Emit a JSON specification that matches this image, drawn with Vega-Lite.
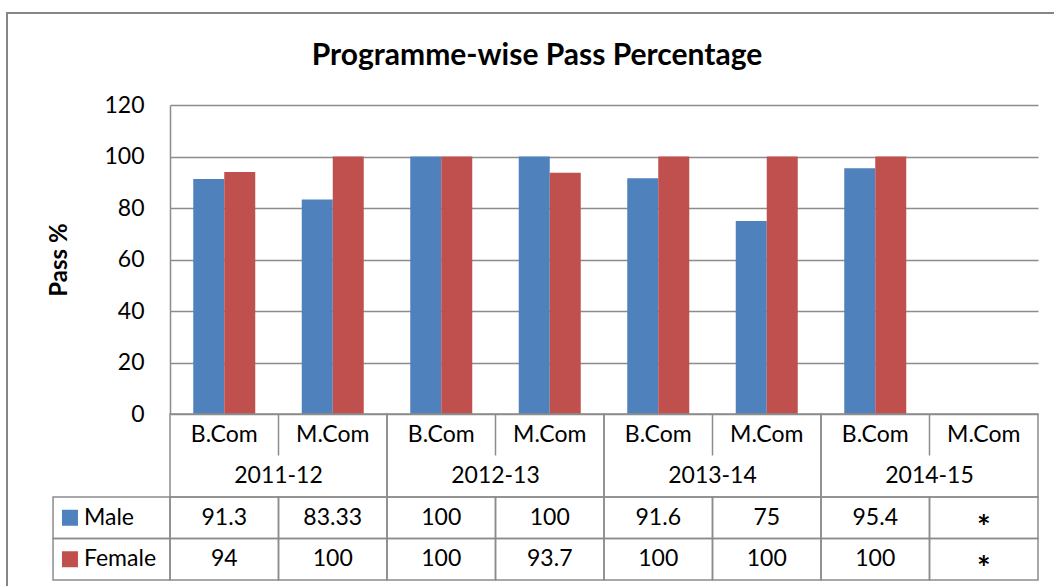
{
  "$schema": "https://vega.github.io/schema/vega-lite/v6.json",
  "width": 1060,
  "height": 590,
  "autosize": {"type": "none"},
  "padding": {"left": 7, "top": 13, "right": -13, "bottom": -17},
  "background": "white",
  "title": {"text": "Programme-wise Pass Percentage", "font": "Lato", "fontSize": 30, "fontWeight": "bold", "color": "#000000", "anchor": "middle", "offset": -82, "baseline": "alphabetic"},
  "config": {
    "view": {"stroke": "#868686", "strokeWidth": 2},
    "font": "Lato",
    "text": {"font": "Lato", "fontSize": 23, "color": "#000000"}
  },
  "data": {"values": [
    {"year": "2011-12", "prog": "B.Com", "col": "2011-12 B.Com", "gender": "Male", "value": 91.3},
    {"year": "2011-12", "prog": "B.Com", "col": "2011-12 B.Com", "gender": "Female", "value": 94},
    {"year": "2011-12", "prog": "M.Com", "col": "2011-12 M.Com", "gender": "Male", "value": 83.33},
    {"year": "2011-12", "prog": "M.Com", "col": "2011-12 M.Com", "gender": "Female", "value": 100},
    {"year": "2012-13", "prog": "B.Com", "col": "2012-13 B.Com", "gender": "Male", "value": 100},
    {"year": "2012-13", "prog": "B.Com", "col": "2012-13 B.Com", "gender": "Female", "value": 100},
    {"year": "2012-13", "prog": "M.Com", "col": "2012-13 M.Com", "gender": "Male", "value": 100},
    {"year": "2012-13", "prog": "M.Com", "col": "2012-13 M.Com", "gender": "Female", "value": 93.7},
    {"year": "2013-14", "prog": "B.Com", "col": "2013-14 B.Com", "gender": "Male", "value": 91.6},
    {"year": "2013-14", "prog": "B.Com", "col": "2013-14 B.Com", "gender": "Female", "value": 100},
    {"year": "2013-14", "prog": "M.Com", "col": "2013-14 M.Com", "gender": "Male", "value": 75},
    {"year": "2013-14", "prog": "M.Com", "col": "2013-14 M.Com", "gender": "Female", "value": 100},
    {"year": "2014-15", "prog": "B.Com", "col": "2014-15 B.Com", "gender": "Male", "value": 95.4},
    {"year": "2014-15", "prog": "B.Com", "col": "2014-15 B.Com", "gender": "Female", "value": 100},
    {"year": "2014-15", "prog": "M.Com", "col": "2014-15 M.Com", "gender": "Male", "value": null},
    {"year": "2014-15", "prog": "M.Com", "col": "2014-15 M.Com", "gender": "Female", "value": null}
  ]},
  "layer": [
    {
      "mark": {"type": "bar"},
      "encoding": {
        "x": {"field": "col", "type": "nominal", "axis": null, "scale": {"range": [163, 1031], "paddingInner": 0, "paddingOuter": 0}},
        "xOffset": {"field": "gender", "type": "nominal", "scale": {"domain": ["Male", "Female"], "paddingInner": 0, "paddingOuter": 0.75}},
        "y": {
          "field": "value", "type": "quantitative",
          "scale": {"domain": [0, 120], "range": [401, 92], "nice": false, "zero": true},
          "axis": {
            "values": [0, 20, 40, 60, 80, 100, 120],
            "grid": true, "gridColor": "#8c8c8c", "gridWidth": 1.5,
            "domain": true, "domainColor": "#8c8c8c", "domainWidth": 1.5,
            "ticks": false, "tickSize": 0,
            "labelPadding": 26, "labelFont": "Lato", "labelFontSize": 23, "labelColor": "#000000",
            "title": "Pass %", "titleFont": "Lato", "titleFontSize": 24, "titleFontWeight": "bold", "titleColor": "#000000",
            "titlePadding": 32,
            "offset": -163
          }
        },
        "color": {"field": "gender", "type": "nominal", "scale": {"domain": ["Male", "Female"], "range": ["#4F81BD", "#C0504D"]}, "legend": null}
      }
    },
    {
      "layer": [
        {
          "mark": {"type": "rect", "fill": "transparent", "stroke": "#8c8c8c", "strokeWidth": 1.5},
          "encoding": {
            "x": {"field": "col", "type": "nominal", "axis": null},
            "y": {"field": "gender", "type": "nominal", "scale": {"domain": ["prog", "year", "Male", "Female"], "range": [401, 567], "paddingInner": 0, "paddingOuter": 0}, "axis": null}
          }
        },
        {
          "transform": [{"filter": {"field": "col", "equal": "2011-12 B.Com"}}],
          "mark": {"type": "rect", "fill": "transparent", "stroke": "#8c8c8c", "strokeWidth": 1.5},
          "encoding": {
            "x": {"field": "col", "type": "nominal", "bandPosition": -1.078, "axis": null},
            "x2": {"field": "col", "bandPosition": 0},
            "y": {"field": "gender", "type": "nominal", "axis": null}
          }
        },
        {
          "transform": [{"filter": {"field": "gender", "equal": "Male"}}, {"filter": {"field": "prog", "equal": "B.Com"}}],
          "mark": {"type": "rect", "fill": "transparent", "stroke": "#8c8c8c", "strokeWidth": 1.5},
          "encoding": {
            "x": {"field": "col", "type": "nominal", "bandPosition": 0, "axis": null},
            "x2": {"field": "col", "bandPosition": 2},
            "y": {"datum": "prog", "type": "nominal", "bandPosition": 0, "axis": null},
            "y2": {"datum": "year", "bandPosition": 1}
          }
        },
        {
          "transform": [{"filter": {"field": "gender", "equal": "Male"}}, {"filter": {"field": "prog", "equal": "M.Com"}}],
          "mark": {"type": "rule", "stroke": "#8c8c8c", "strokeWidth": 1.5},
          "encoding": {
            "x": {"field": "col", "type": "nominal", "bandPosition": 0, "axis": null},
            "y": {"datum": "prog", "type": "nominal", "bandPosition": 0, "axis": null},
            "y2": {"datum": "prog", "bandPosition": 1}
          }
        },
        {
          "transform": [{"filter": {"field": "col", "equal": "2011-12 B.Com"}}],
          "mark": {"type": "square", "filled": true, "opacity": 1, "size": 256},
          "encoding": {
            "x": {"field": "col", "type": "nominal", "bandPosition": -0.922, "axis": null},
            "y": {"field": "gender", "type": "nominal", "axis": null},
            "color": {"field": "gender", "type": "nominal"}
          }
        },
        {
          "transform": [{"filter": {"field": "col", "equal": "2011-12 B.Com"}}],
          "mark": {"type": "text", "align": "left", "baseline": "middle"},
          "encoding": {
            "x": {"field": "col", "type": "nominal", "bandPosition": -0.793, "axis": null},
            "y": {"field": "gender", "type": "nominal", "axis": null},
            "text": {"field": "gender", "type": "nominal"}
          }
        },
        {
          "transform": [{"filter": "datum.value != null"}],
          "mark": {"type": "text", "align": "center", "baseline": "middle"},
          "encoding": {
            "x": {"field": "col", "type": "nominal", "axis": null},
            "y": {"field": "gender", "type": "nominal", "axis": null},
            "text": {"field": "value", "type": "nominal"}
          }
        },
        {
          "transform": [{"filter": "datum.value == null"}],
          "mark": {"type": "text", "align": "center", "baseline": "middle", "fontSize": 32, "fontWeight": "bold", "dy": 11},
          "encoding": {
            "x": {"field": "col", "type": "nominal", "axis": null},
            "y": {"field": "gender", "type": "nominal", "axis": null},
            "text": {"value": "*"}
          }
        },
        {
          "transform": [{"filter": {"field": "gender", "equal": "Male"}}],
          "mark": {"type": "text", "align": "center", "baseline": "middle"},
          "encoding": {
            "x": {"field": "col", "type": "nominal", "axis": null},
            "y": {"datum": "prog", "type": "nominal", "axis": null},
            "text": {"field": "prog", "type": "nominal"}
          }
        },
        {
          "transform": [{"filter": {"field": "gender", "equal": "Male"}}, {"filter": {"field": "prog", "equal": "B.Com"}}],
          "mark": {"type": "text", "align": "center", "baseline": "middle"},
          "encoding": {
            "x": {"field": "col", "type": "nominal", "bandPosition": 1, "axis": null},
            "y": {"datum": "year", "type": "nominal", "axis": null},
            "text": {"field": "year", "type": "nominal"}
          }
        }
      ]
    }
  ],
  "resolve": {"scale": {"y": "independent"}, "axis": {"y": "independent"}}
}
